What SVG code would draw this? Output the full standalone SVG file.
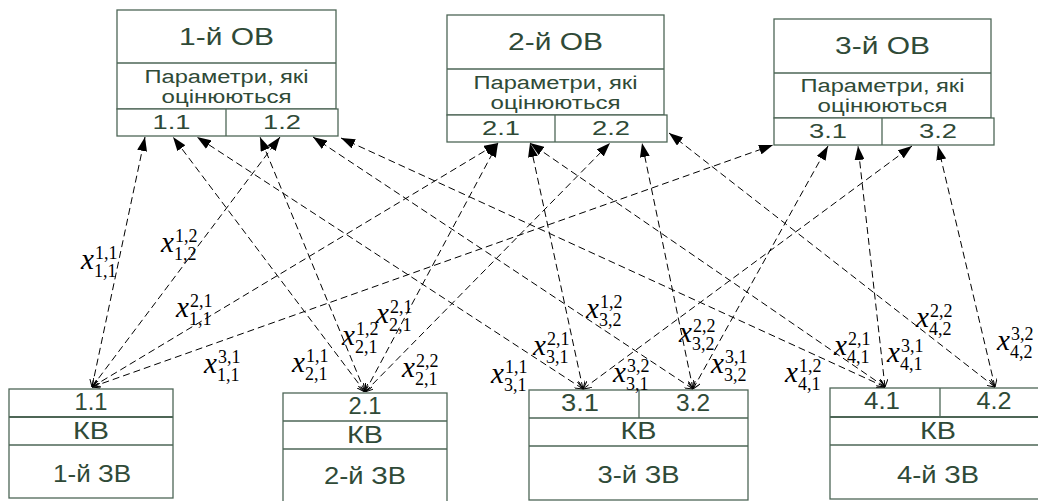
<svg xmlns="http://www.w3.org/2000/svg" width="1038" height="501" viewBox="0 0 1038 501">
<style>
.bx{fill:#fff;stroke:#4d6656;stroke-width:1.3}
.ln{stroke:#4d6656;stroke-width:1.3;fill:none}
.t{font-family:"Liberation Sans",Arial,sans-serif;fill:#2f4a37;text-anchor:middle}
.tt{font-size:23px}
.tp{font-size:18px}
.tc{font-size:20px}
.tb{font-size:23px}
.conn line{stroke:#000;stroke-width:1;stroke-dasharray:7 4;fill:none;marker-end:url(#ah);marker-start:url(#tl)}
.lbl{font-family:"Liberation Serif","Times New Roman",serif;fill:#000}
.v{font-size:29px;font-style:italic}
.s{font-size:18px}
</style>
<defs>
<marker id="ah" viewBox="0 0 14 10" refX="14" refY="5" markerWidth="14" markerHeight="10" markerUnits="userSpaceOnUse" orient="auto"><path d="M0,0 L14,5 L0,10 z" fill="#000"/></marker>
<marker id="tl" viewBox="0 0 8 8" refX="8" refY="4" markerWidth="8" markerHeight="8" markerUnits="userSpaceOnUse" orient="auto-start-reverse"><path d="M0,0 L8,4 L0,8" fill="none" stroke="#000" stroke-width="1"/></marker>
</defs>
<rect width="1038" height="501" fill="#fff"/>

<g id="ov1">
<rect class="bx" x="117" y="10" width="219" height="99"/>
<line class="ln" x1="117" y1="63" x2="336" y2="63"/>
<rect class="bx" x="117" y="109" width="221" height="27"/>
<line class="ln" x1="226" y1="109" x2="226" y2="136"/>
<text class="t tt" x="226.5" y="45" textLength="95" lengthAdjust="spacingAndGlyphs">1-й  ОВ</text>
<text class="t tp" x="226.5" y="83" textLength="164" lengthAdjust="spacingAndGlyphs">Параметри, які</text>
<text class="t tp" x="226.5" y="103" textLength="130" lengthAdjust="spacingAndGlyphs">оцінюються</text>
<text class="t tc" x="171.5" y="129" textLength="38" lengthAdjust="spacingAndGlyphs">1.1</text>
<text class="t tc" x="282" y="129" textLength="38" lengthAdjust="spacingAndGlyphs">1.2</text>
</g>

<g id="ov2">
<rect class="bx" x="447" y="15" width="217" height="100"/>
<line class="ln" x1="447" y1="69" x2="664" y2="69"/>
<rect class="bx" x="447" y="115" width="220" height="27"/>
<line class="ln" x1="555" y1="115" x2="555" y2="142"/>
<text class="t tt" x="555.5" y="50" textLength="95" lengthAdjust="spacingAndGlyphs">2-й  ОВ</text>
<text class="t tp" x="555.5" y="89" textLength="164" lengthAdjust="spacingAndGlyphs">Параметри, які</text>
<text class="t tp" x="555.5" y="109" textLength="130" lengthAdjust="spacingAndGlyphs">оцінюються</text>
<text class="t tc" x="501" y="135" textLength="38" lengthAdjust="spacingAndGlyphs">2.1</text>
<text class="t tc" x="611" y="135" textLength="38" lengthAdjust="spacingAndGlyphs">2.2</text>
</g>

<g id="ov3">
<rect class="bx" x="774" y="19" width="217" height="99"/>
<line class="ln" x1="774" y1="73" x2="991" y2="73"/>
<rect class="bx" x="774" y="118" width="220" height="27"/>
<line class="ln" x1="882" y1="118" x2="882" y2="145"/>
<text class="t tt" x="882.5" y="54" textLength="95" lengthAdjust="spacingAndGlyphs">3-й  ОВ</text>
<text class="t tp" x="882.5" y="92" textLength="164" lengthAdjust="spacingAndGlyphs">Параметри, які</text>
<text class="t tp" x="882.5" y="112" textLength="130" lengthAdjust="spacingAndGlyphs">оцінюються</text>
<text class="t tc" x="828" y="138" textLength="38" lengthAdjust="spacingAndGlyphs">3.1</text>
<text class="t tc" x="938" y="138" textLength="38" lengthAdjust="spacingAndGlyphs">3.2</text>
</g>

<g id="zv1">
<rect class="bx" x="9" y="389" width="164" height="109"/>
<line class="ln" x1="9" y1="417" x2="173" y2="417" style="stroke-width:2"/>
<line class="ln" x1="9" y1="445" x2="173" y2="445"/>
<text class="t tb" x="91" y="410" textLength="33" lengthAdjust="spacingAndGlyphs">1.1</text>
<text class="t tb" x="91" y="439" textLength="36" lengthAdjust="spacingAndGlyphs">КВ</text>
<text class="t tb" x="92" y="482" textLength="78" lengthAdjust="spacingAndGlyphs">1-й ЗВ</text>
</g>

<g id="zv2">
<rect class="bx" x="283" y="393" width="164" height="112"/>
<line class="ln" x1="283" y1="421" x2="447" y2="421"/>
<line class="ln" x1="283" y1="449" x2="447" y2="449"/>
<text class="t tb" x="365" y="414" textLength="33" lengthAdjust="spacingAndGlyphs">2.1</text>
<text class="t tb" x="365" y="443" textLength="36" lengthAdjust="spacingAndGlyphs">КВ</text>
<text class="t tb" x="365" y="484" textLength="82" lengthAdjust="spacingAndGlyphs">2-й ЗВ</text>
</g>

<g id="zv3">
<rect class="bx" x="529" y="390" width="219" height="110"/>
<line class="ln" x1="639" y1="390" x2="639" y2="418"/>
<line class="ln" x1="529" y1="418" x2="748" y2="418"/>
<line class="ln" x1="529" y1="446" x2="748" y2="446"/>
<text class="t tb" x="580" y="411" textLength="38" lengthAdjust="spacingAndGlyphs">3.1</text>
<text class="t tb" x="693" y="411" textLength="34" lengthAdjust="spacingAndGlyphs">3.2</text>
<text class="t tb" x="638.5" y="439" textLength="36" lengthAdjust="spacingAndGlyphs">КВ</text>
<text class="t tb" x="638.5" y="483" textLength="82" lengthAdjust="spacingAndGlyphs">3-й ЗВ</text>
</g>

<g id="zv4">
<rect class="bx" x="830" y="388" width="216" height="111"/>
<line class="ln" x1="940" y1="388" x2="940" y2="417"/>
<line class="ln" x1="830" y1="417" x2="1046" y2="417" style="stroke-width:2"/>
<line class="ln" x1="830" y1="445" x2="1046" y2="445"/>
<text class="t tb" x="882" y="409" textLength="36" lengthAdjust="spacingAndGlyphs">4.1</text>
<text class="t tb" x="994" y="409" textLength="35" lengthAdjust="spacingAndGlyphs">4.2</text>
<text class="t tb" x="938" y="439" textLength="36" lengthAdjust="spacingAndGlyphs">КВ</text>
<text class="t tb" x="938" y="483" textLength="82" lengthAdjust="spacingAndGlyphs">4-й ЗВ</text>
</g>

<g id="connectors" class="conn">
<line x1="92" y1="387" x2="145" y2="137"/>
<line x1="92" y1="387" x2="280" y2="137"/>
<line x1="92" y1="387" x2="498" y2="143"/>
<line x1="92" y1="387" x2="773" y2="145"/>
<line x1="365" y1="392" x2="173" y2="137"/>
<line x1="365" y1="392" x2="260" y2="137"/>
<line x1="365" y1="392" x2="498" y2="143"/>
<line x1="365" y1="392" x2="610" y2="143"/>
<line x1="583" y1="389" x2="197" y2="137"/>
<line x1="583" y1="389" x2="530" y2="143"/>
<line x1="583" y1="389" x2="912" y2="146"/>
<line x1="693" y1="389" x2="313" y2="137"/>
<line x1="693" y1="389" x2="642" y2="143"/>
<line x1="693" y1="389" x2="828" y2="146"/>
<line x1="885" y1="387" x2="341" y2="138"/>
<line x1="885" y1="387" x2="530" y2="143"/>
<line x1="885" y1="387" x2="858" y2="146"/>
<line x1="995" y1="387" x2="669" y2="133"/>
<line x1="995" y1="387" x2="938" y2="146"/>
</g>

<g id="labels" class="lbl">
<text x="81" y="269"><tspan class="v">x</tspan><tspan class="s" x="95" y="259">1,1</tspan><tspan class="s" x="94" y="277">1,1</tspan></text>
<text x="161" y="252"><tspan class="v">x</tspan><tspan class="s" x="175" y="242">1,2</tspan><tspan class="s" x="174" y="260">1,2</tspan></text>
<text x="176" y="317"><tspan class="v">x</tspan><tspan class="s" x="190" y="307">2,1</tspan><tspan class="s" x="189" y="325">1,1</tspan></text>
<text x="204" y="373"><tspan class="v">x</tspan><tspan class="s" x="218" y="363">3,1</tspan><tspan class="s" x="217" y="381">1,1</tspan></text>
<text x="292" y="372"><tspan class="v">x</tspan><tspan class="s" x="306" y="362">1,1</tspan><tspan class="s" x="305" y="380">2,1</tspan></text>
<text x="342" y="345"><tspan class="v">x</tspan><tspan class="s" x="356" y="335">1,2</tspan><tspan class="s" x="355" y="353">2,1</tspan></text>
<text x="376" y="323"><tspan class="v">x</tspan><tspan class="s" x="390" y="313">2,1</tspan><tspan class="s" x="389" y="331">2,1</tspan></text>
<text x="402" y="377"><tspan class="v">x</tspan><tspan class="s" x="416" y="367">2,2</tspan><tspan class="s" x="415" y="385">2,1</tspan></text>
<text x="491" y="383"><tspan class="v">x</tspan><tspan class="s" x="505" y="373">1,1</tspan><tspan class="s" x="504" y="391">3,1</tspan></text>
<text x="533" y="355"><tspan class="v">x</tspan><tspan class="s" x="547" y="345">2,1</tspan><tspan class="s" x="546" y="363">3,1</tspan></text>
<text x="586" y="318"><tspan class="v">x</tspan><tspan class="s" x="600" y="308">1,2</tspan><tspan class="s" x="599" y="326">3,2</tspan></text>
<text x="613" y="382"><tspan class="v">x</tspan><tspan class="s" x="627" y="372">3,2</tspan><tspan class="s" x="626" y="390">3,1</tspan></text>
<text x="679" y="342"><tspan class="v">x</tspan><tspan class="s" x="693" y="332">2,2</tspan><tspan class="s" x="692" y="350">3,2</tspan></text>
<text x="711" y="373"><tspan class="v">x</tspan><tspan class="s" x="725" y="363">3,1</tspan><tspan class="s" x="724" y="381">3,2</tspan></text>
<text x="785" y="382"><tspan class="v">x</tspan><tspan class="s" x="799" y="372">1,2</tspan><tspan class="s" x="798" y="390">4,1</tspan></text>
<text x="834" y="355"><tspan class="v">x</tspan><tspan class="s" x="848" y="345">2,1</tspan><tspan class="s" x="847" y="363">4,1</tspan></text>
<text x="887" y="362"><tspan class="v">x</tspan><tspan class="s" x="901" y="352">3,1</tspan><tspan class="s" x="900" y="370">4,1</tspan></text>
<text x="916" y="327"><tspan class="v">x</tspan><tspan class="s" x="930" y="317">2,2</tspan><tspan class="s" x="929" y="335">4,2</tspan></text>
<text x="997" y="350"><tspan class="v">x</tspan><tspan class="s" x="1011" y="340">3,2</tspan><tspan class="s" x="1010" y="358">4,2</tspan></text>
</g>
</svg>
